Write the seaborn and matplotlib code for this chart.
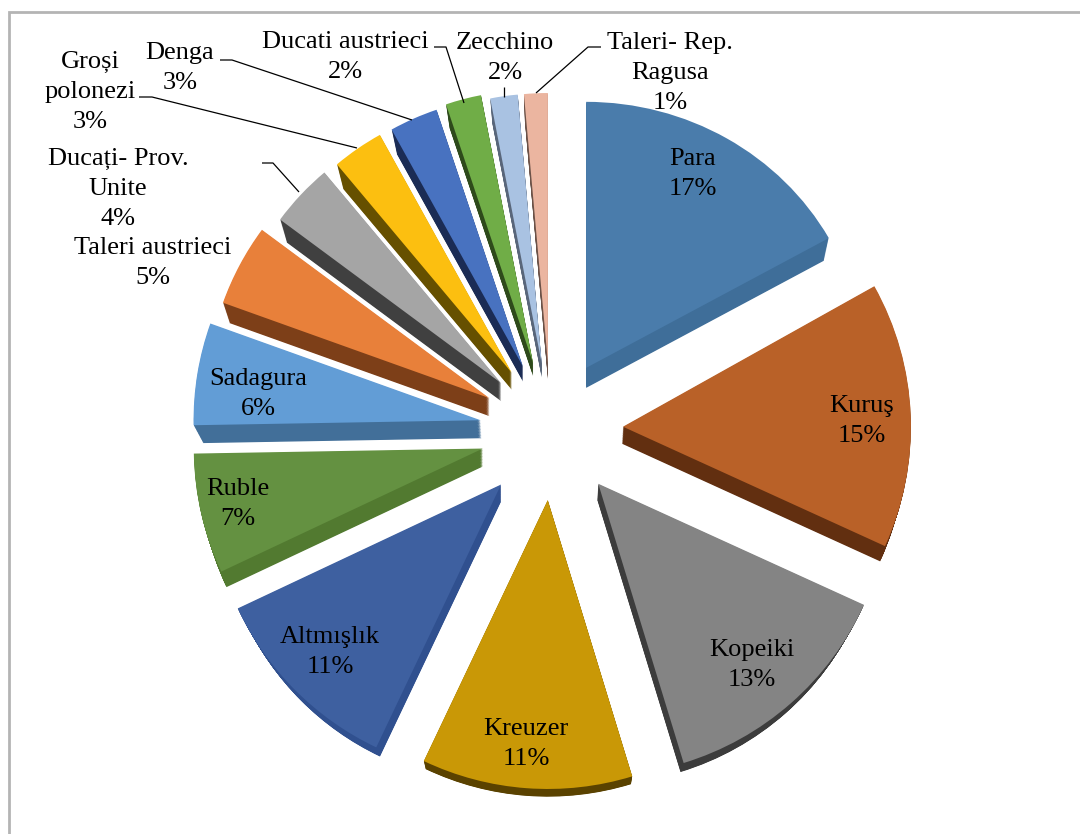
import matplotlib
matplotlib.use('Agg')
import matplotlib.pyplot as plt
from matplotlib.patches import Rectangle
from matplotlib.transforms import Affine2D
import seaborn as sns

# Data
coins = ['Para', 'Kuruş', 'Kopeiki', 'Kreuzer', 'Altmışlık', 'Ruble', 'Sadagura',
         'Taleri austrieci', 'Ducați- Prov.\nUnite', 'Groși\npolonezi', 'Denga',
         'Ducati austrieci', 'Zecchino', 'Taleri- Rep.\nRagusa']
shares = [17, 15, 13, 11, 11, 7, 6, 5, 4, 3, 3, 2, 2, 1]

# Face and side colours
top_colors = sns.color_palette(['#4A7CAB', '#B96128', '#848484', '#C99806', '#3E60A0',
                                '#649141', '#629DD6', '#E8803A', '#A5A5A5', '#FCBF10',
                                '#4872C0', '#70AD47', '#A9C2E2', '#EBB5A0'])
side_colors = sns.color_palette(['#3F6E99', '#622F10', '#3C3C3C', '#5A4200', '#30508F',
                                 '#527A30', '#426F99', '#7D3F18', '#404040', '#665000',
                                 '#1B2C55', '#2E4A1B', '#59667A', '#6B5248'])

# Fake 3D look: each slice has its own gap, radius, extrusion and base scale
gaps = [71, 73, 73, 71, 74, 70, 70, 68, 67, 68, 68, 68, 66, 66]
radii = [278, 288, 292, 289, 291, 289, 287, 283, 275, 272, 271, 273, 270, 270]
side_dx = [0, -1, -1, 0, 0, 0, 1, 0, 0, 0, 0, 0, 0, 0]
side_dy = [20, 17, 16, 12, 17, 18, 18, 18, 18, 17, 15, 13, 14, 16]
side_scale = [.98, .985, .975, .985, .97, .98, .97, .975, .97, .965, .96, .96, .96, .96]
# Perspective stretches the slice edges a little (degrees clockwise from the top)
edge_shift = [0, -0.4, -0.7, 1.0, 3.8, 3.6, 2.6, 1.7, 0.5, -0.4, -0.2, -0.6, -0.2, -1.5, 0]
PARA_SQUASH = 0.957  # the far slice is flatter than the others

H = 834
CX, CY = 550, H - 429
R = 280
LAYERS = 24

sns.set_theme(style='white')
plt.rcParams['font.family'] = ['Liberation Serif', 'DejaVu Serif']

fig = plt.figure(figsize=(10.8, 8.34), dpi=100)
ax = fig.add_axes([0, 0, 1, 1])


def draw_layer(t, colors):
    # t=1 is the base of the slice, t=0 the top face
    wedges, _ = ax.pie(shares, explode=gaps, center=(CX, CY), radius=R,
                       startangle=90, counterclock=False, colors=colors,
                       wedgeprops={'linewidth': 0})
    for i, w in enumerate(wedges):
        x, y = w.center
        x, y = x + t * side_dx[i], y - t * side_dy[i]
        w.set_center((x, y))
        w.set_radius(radii[i] * (1 - t * (1 - side_scale[i])))
        # Clockwise pie: theta1 is the far edge of the slice
        w.set_theta1(w.theta1 - edge_shift[i + 1])
        w.set_theta2(w.theta2 - edge_shift[i])
    # squash Para about its own tip
    px, py = wedges[0].center
    squash = Affine2D().translate(-px, -py).scale(1, PARA_SQUASH).translate(px, py)
    wedges[0].set_transform(squash + ax.transData)


# Extrusion first, top faces over it
for k in range(LAYERS, 0, -1):
    draw_layer(k / LAYERS, side_colors)
draw_layer(0, top_colors)

# Chart border runs off the right and bottom of the picture
ax.add_patch(Rectangle((9, -20), 1100, H - 12 + 20, fill=False, edgecolor='#B4B4B4', linewidth=2))

# Leader lines
leaders = [
    ([601, 588, 536], [47, 47, 93]),
    ([504, 504], [87, 97]),
    ([434, 446, 464], [47, 47, 103]),
    ([220, 232, 412], [60, 60, 120]),
    ([139, 152, 357], [97, 97, 148]),
    ([262, 273, 299], [163, 163, 192]),
]
for xs, ys in leaders:
    ax.plot(xs, [H - y for y in ys], color='black', linewidth=0.9, solid_capstyle='butt', zorder=5)

# Label centres in picture pixels
label_pos = [(693, 174), (862, 421), (752, 665), (526, 744), (330, 652), (238, 504), (258, 394),
             (153, 263), (118, 189), (90, 92), (180, 68), (345, 57), (505, 58), (670, 73)]
for name, share, (x, y) in zip(coins, shares, label_pos):
    ax.text(x, H - y, f'{name}\n{share}%', ha='center', va='center', fontsize=19,
            color='black', linespacing=1.48, zorder=10)

ax.set_xlim(0, 1080)
ax.set_ylim(0, H)
ax.set_aspect('auto')

plt.savefig('out.png', dpi=100, facecolor='white')
